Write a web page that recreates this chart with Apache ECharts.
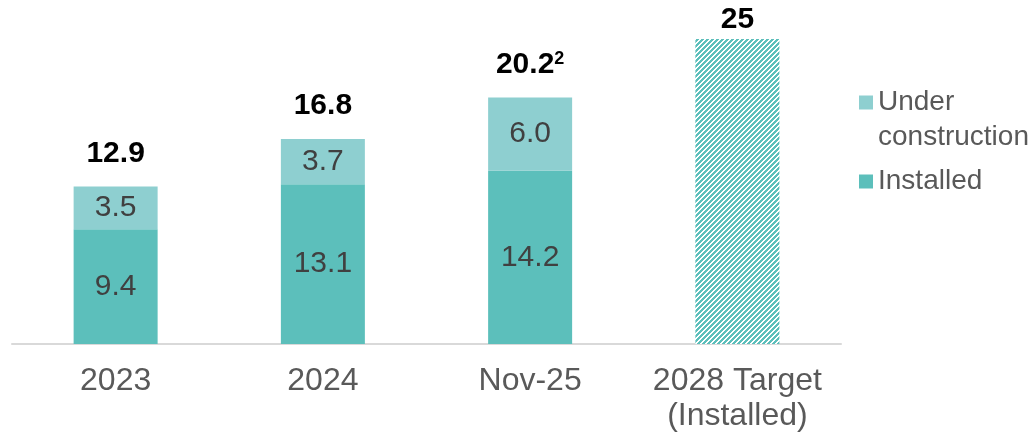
<!DOCTYPE html>
<html>
<head>
<meta charset="utf-8">
<script src="https://cdn.jsdelivr.net/npm/echarts@6/dist/echarts.min.js"></script>
<style>
html,body{margin:0;padding:0;background:#fff;}
#c{width:1033px;height:438px;}
</style>
</head>
<body>
<div id="c"></div>
<script>
const categories = ['2023', '2024', 'Nov-25', '2028 Target\n(Installed)'];
const installed = [9.4, 13.1, 14.2, '-'];
const underConstruction = [3.5, 3.7, 6.0, '-'];
const target = ['-', '-', '-', 25];
const totals = ['12.9', '16.8', '20.2', '25'];
const totalNotes = ['', '', '2', ''];

const C_INST = '#5CBFBB';
const C_UC = '#8ECFD0';

// hatched pattern
const pc = document.createElement('canvas');
pc.width = 5; pc.height = 5;
const pctx = pc.getContext('2d');
const img = pctx.createImageData(5, 5);
for (let y = 0; y < 5; y++) {
  for (let x = 0; x < 5; x++) {
    const i = (y * 5 + x) * 4;
    const teal = ((x + y) % 5) < 3;
    img.data[i] = teal ? 0x5C : 255;
    img.data[i+1] = teal ? 0xBF : 255;
    img.data[i+2] = teal ? 0xBB : 255;
    img.data[i+3] = 255;
  }
}
pctx.putImageData(img, 0, 0);

const chart = echarts.init(document.getElementById('c'), null, {renderer: 'canvas'});
const FONT = 'Liberation Sans, Arial, sans-serif';
const fmt1 = v => (typeof v === 'number' ? v.toFixed(1) : v);

chart.setOption({
  animation: false,
  textStyle: {fontFamily: FONT},
  grid: {left: 12, right: 192, top: 39, bottom: 94, containLabel: false},
  legend: {
    orient: 'vertical',
    left: 854,
    top: 45,
    padding: 5,
    itemWidth: 14,
    itemHeight: 14,
    itemGap: 9,
    icon: 'rect',
    selectedMode: false,
    formatter: name => name.indexOf('\n') >= 0 ? ' \n' + name : name,
    textStyle: {fontSize: 28, color: '#595959', lineHeight: 35, fontFamily: FONT},
    data: ['Under\nconstruction', 'Installed']
  },
  xAxis: {
    type: 'category',
    data: categories,
    axisLine: {lineStyle: {color: '#D9D9D9', width: 2}},
    axisTick: {show: false},
    axisLabel: {fontSize: 32, color: '#595959', lineHeight: 35, margin: 20, fontFamily: FONT, interval: 0}
  },
  yAxis: {
    type: 'value', min: 0, max: 25, show: false,
    splitLine: {show: false}
  },
  series: [
    {
      name: 'Installed', type: 'bar', stack: 'a', barWidth: 84,
      data: installed,
      itemStyle: {color: C_INST},
      label: {show: true, position: 'inside', fontSize: 30, color: '#404040', fontFamily: FONT,
              formatter: p => fmt1(p.value)}
    },
    {
      name: 'Under\nconstruction', type: 'bar', stack: 'a', barWidth: 84,
      data: underConstruction,
      itemStyle: {color: C_UC},
      label: {show: true, position: 'inside', fontSize: 30, color: '#404040', fontFamily: FONT,
              formatter: p => fmt1(p.value)}
    },
    {
      name: 'totalsLabel', type: 'bar', stack: 'a', barWidth: 84,
      data: [0, 0, 0, '-'],
      itemStyle: {color: 'transparent'},
      label: {
        show: true, position: 'top', distance: 18,
        formatter: p => '{t|' + totals[p.dataIndex] + '}' + (totalNotes[p.dataIndex] ? '{s|' + totalNotes[p.dataIndex] + '}' : ''),
        rich: {
          t: {fontSize: 30, fontWeight: 'bold', color: '#000', fontFamily: FONT, lineHeight: 30},
          s: {fontSize: 18, fontWeight: 'bold', color: '#000', fontFamily: FONT, verticalAlign: 'top', lineHeight: 18}
        }
      }
    },
    {
      name: 'Target', type: 'bar', stack: 'a', barWidth: 84,
      data: target,
      itemStyle: {color: {image: pc, repeat: 'repeat'}},
      label: {
        show: true, position: 'top', distance: 4,
        formatter: p => totals[p.dataIndex],
        fontSize: 30, fontWeight: 'bold', color: '#000', fontFamily: FONT
      }
    }
  ]
});
</script>
</body>
</html>
